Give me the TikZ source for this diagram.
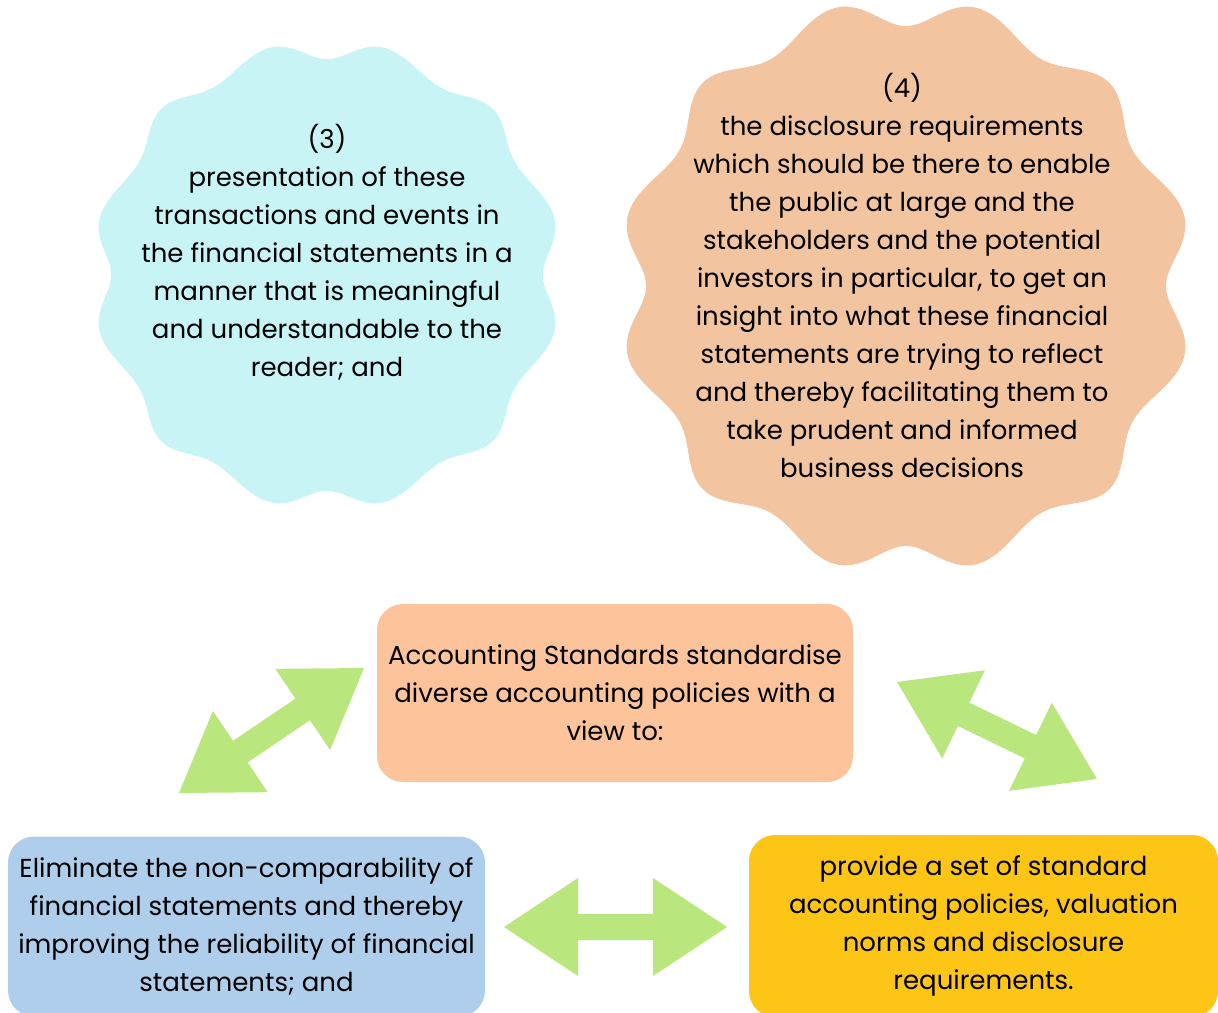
\documentclass[tikz,border=0pt]{standalone}
\usepackage{fontspec}
\setmainfont{Poppins}
\usetikzlibrary{calc}

% nuage festonne : couleur, centre x, centre y, echelle, amplitude des lobes
\newcommand{\scallop}[5]{%
  \fill[#1, shift={(#2,#3)}] plot[domain=0:360, samples=241, smooth]
    (\x:{#4*(226.25-#5*cos(12*\x)-0.93*cos(20*\x)-0.54*cos(8*\x)-0.45*cos(16*\x)-0.4*cos(4*\x))})
    -- cycle;}

% grosse fleche double entre deux points nommes
\newcommand{\fatarrow}[2]{%
  \fill[arrowGreen] (#1)
    -- ($(#1)!74pt!(#2)!49pt!-90:(#2)$) -- ($(#1)!74pt!(#2)!13pt!-90:(#2)$)
    -- ($(#2)!74pt!(#1)!13pt!90:(#1)$) -- ($(#2)!74pt!(#1)!49pt!90:(#1)$)
    -- (#2)
    -- ($(#2)!74pt!(#1)!49pt!-90:(#1)$) -- ($(#2)!74pt!(#1)!13pt!-90:(#1)$)
    -- ($(#1)!74pt!(#2)!13pt!90:(#2)$) -- ($(#1)!74pt!(#2)!49pt!90:(#2)$)
    -- cycle;}

\begin{document}
\begin{tikzpicture}[x=1pt, y=-1pt,
    txt/.style={align=center, inner sep=0pt, font=\fontsize{26}{38}\selectfont},
    card/.style={txt, rounded corners=26pt, minimum width=476pt, minimum height=178pt}]
    % --- CONFIGURATION ---
    \definecolor{cloudBlue}{RGB}{200,244,246}
    \definecolor{cloudPeach}{RGB}{242,196,160}
    \definecolor{boxPeach}{RGB}{253,195,155}
    \definecolor{boxBlue}{RGB}{174,206,236}
    \definecolor{boxGold}{RGB}{253,197,22}
    \definecolor{arrowGreen}{RGB}{185,230,125}

    \useasboundingbox (0,0) rectangle (1218,1012);

    % --- NUAGES ---
    \scallop{cloudBlue}{327}{275}{1}{8.1}
    \scallop{cloudPeach}{906}{286}{1.215}{10}

    \node[txt] (c3) at (327,252) {(3)\\presentation of these\\transactions and events in\\the financial statements in a\\manner that is meaningful\\and understandable to the\\reader; and};
    \node[txt] (c4) at (902,275) {(4)\\the disclosure requirements\\which should be there to enable\\the public at large and the\\stakeholders and the potential\\investors in particular, to get an\\insight into what these financial\\statements are trying to reflect\\and thereby facilitating them to\\take prudent and informed\\business decisions};

    % --- BOITES ---
    \node[card, fill=boxPeach] (std) at (615,693) {Accounting Standards standardise\\diverse accounting policies with a\\view to:};
    \node[card, fill=boxBlue, minimum width=477pt, minimum height=180pt] (elim) at (246.5,926.5) {Eliminate the non-comparability of\\financial statements and thereby\\improving the reliability of financial\\statements; and};
    \node[card, fill=boxGold, minimum width=469pt, minimum height=182pt] (prov) at (983.5,926) {provide a set of standard\\accounting policies, valuation\\norms and disclosure\\requirements.};

    % --- FLECHES ---
    \coordinate (l1) at (179,793);
    \coordinate (l2) at (364,668);
    \coordinate (r1) at (897,682);
    \coordinate (r2) at (1097,779);
    \coordinate (h1) at (504,927);
    \coordinate (h2) at (727,927);
    \fatarrow{l1}{l2}
    \fatarrow{r1}{r2}
    \fatarrow{h1}{h2}

\end{tikzpicture}
\end{document}
